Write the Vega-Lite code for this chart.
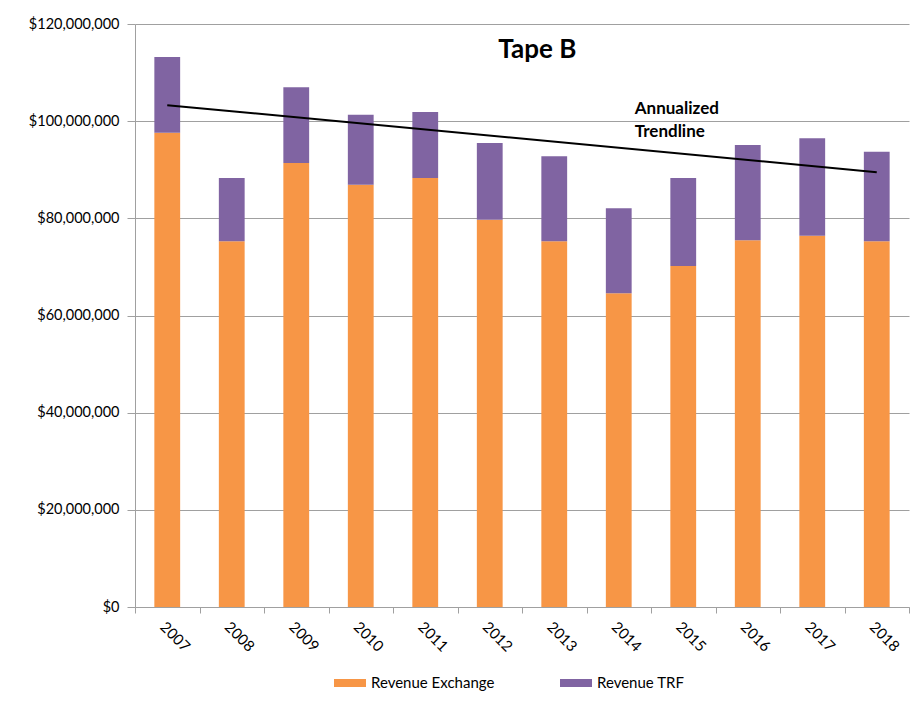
{
  "$schema": "https://vega.github.io/schema/vega-lite/v6.json",
  "autosize": {"type": "none"},
  "padding": {"left": 135, "top": 24, "right": 13, "bottom": 106},
  "width": 774,
  "height": 583,
  "background": "white",
  "config": {
    "font": "Lato",
    "view": {"stroke": null},
    "axis": {"labelFont": "Lato", "labelColor": "#000000"},
    "legend": {"labelFont": "Lato", "labelFontSize": 15, "labelColor": "#000000"}
  },
  "datasets": {
    "bars": [
      {"year": "2007", "series": "Revenue Exchange", "value": 97600000},
      {"year": "2007", "series": "Revenue TRF", "value": 15600000},
      {"year": "2008", "series": "Revenue Exchange", "value": 75300000},
      {"year": "2008", "series": "Revenue TRF", "value": 13000000},
      {"year": "2009", "series": "Revenue Exchange", "value": 91400000},
      {"year": "2009", "series": "Revenue TRF", "value": 15600000},
      {"year": "2010", "series": "Revenue Exchange", "value": 86900000},
      {"year": "2010", "series": "Revenue TRF", "value": 14400000},
      {"year": "2011", "series": "Revenue Exchange", "value": 88300000},
      {"year": "2011", "series": "Revenue TRF", "value": 13600000},
      {"year": "2012", "series": "Revenue Exchange", "value": 79700000},
      {"year": "2012", "series": "Revenue TRF", "value": 15800000},
      {"year": "2013", "series": "Revenue Exchange", "value": 75300000},
      {"year": "2013", "series": "Revenue TRF", "value": 17500000},
      {"year": "2014", "series": "Revenue Exchange", "value": 64600000},
      {"year": "2014", "series": "Revenue TRF", "value": 17500000},
      {"year": "2015", "series": "Revenue Exchange", "value": 70200000},
      {"year": "2015", "series": "Revenue TRF", "value": 18100000},
      {"year": "2016", "series": "Revenue Exchange", "value": 75500000},
      {"year": "2016", "series": "Revenue TRF", "value": 19600000},
      {"year": "2017", "series": "Revenue Exchange", "value": 76400000},
      {"year": "2017", "series": "Revenue TRF", "value": 20100000},
      {"year": "2018", "series": "Revenue Exchange", "value": 75300000},
      {"year": "2018", "series": "Revenue TRF", "value": 18400000}
    ],
    "trend": [
      {"year": "2007", "trend": 103300000},
      {"year": "2018", "trend": 89500000}
    ],
    "note": [
      {"year": "2014", "y": 101500000, "label": "Annualized\nTrendline"}
    ],
    "titletext": [
      {"year": "2013", "y": 113000000, "label": "Tape B"}
    ]
  },
  "layer": [
    {
      "data": {"name": "bars"},
      "mark": {"type": "bar", "width": {"band": 0.4}},
      "encoding": {
        "x": {
          "field": "year",
          "type": "ordinal",
          "title": null,
          "scale": {"paddingInner": 0, "paddingOuter": 0},
          "axis": {
            "labelAngle": 45,
            "labelFontSize": 15,
            "tickBand": "extent",
            "domainColor": "#a0a0a0",
            "tickColor": "#a0a0a0",
            "tickSize": 6,
            "labelPadding": 6,
            "grid": false
          }
        },
        "y": {
          "field": "value",
          "type": "quantitative",
          "aggregate": "sum",
          "stack": "zero",
          "title": null,
          "scale": {"domain": [0, 120000000], "nice": false},
          "axis": {
            "values": [0, 20000000, 40000000, 60000000, 80000000, 100000000, 120000000],
            "format": "$,.0f",
            "labelFontSize": 14.5,
            "gridColor": "#a0a0a0",
            "domainColor": "#a0a0a0",
            "tickColor": "#a0a0a0",
            "tickSize": 8,
            "labelPadding": 8
          }
        },
        "color": {
          "field": "series",
          "type": "nominal",
          "scale": {"domain": ["Revenue Exchange", "Revenue TRF"], "range": ["#F79646", "#8064A2"]},
          "legend": {
            "title": null,
            "orient": "none",
            "legendX": 199,
            "legendY": 643,
            "direction": "horizontal",
            "symbolType": "M-1,-0.25L1,-0.25L1,0.25L-1,0.25Z",
            "symbolSize": 1024,
            "symbolStrokeWidth": 0,
            "labelOffset": 5,
            "columnPadding": 65
          }
        },
        "order": {"field": "series"}
      }
    },
    {
      "data": {"name": "trend"},
      "mark": {"type": "line", "color": "#000000", "strokeWidth": 2},
      "encoding": {
        "x": {"field": "year", "type": "ordinal"},
        "y": {"field": "trend", "type": "quantitative", "title": null}
      }
    },
    {
      "data": {"name": "note"},
      "mark": {"type": "text", "align": "left", "baseline": "alphabetic", "dx": 16, "fontSize": 17, "fontWeight": "bold", "font": "Lato", "lineBreak": "\n", "lineHeight": 23, "color": "#000000"},
      "encoding": {
        "x": {"field": "year", "type": "ordinal"},
        "y": {"field": "y", "type": "quantitative", "title": null},
        "text": {"field": "label"}
      }
    },
    {
      "data": {"name": "titletext"},
      "mark": {"type": "text", "align": "center", "baseline": "alphabetic", "dx": -17, "fontSize": 26, "fontWeight": "bold", "font": "Lato", "color": "#000000"},
      "encoding": {
        "x": {"field": "year", "type": "ordinal"},
        "y": {"field": "y", "type": "quantitative", "title": null},
        "text": {"field": "label"}
      }
    }
  ]
}
